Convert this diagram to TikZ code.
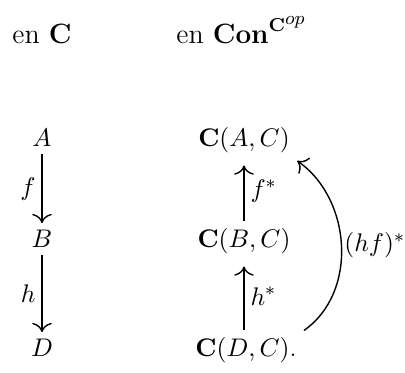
\documentclass[tikz,border=0pt]{standalone}
\usepackage{amsmath,amssymb}
\usepackage{tikz}
\usetikzlibrary{arrows.meta,positioning,calc}

\begin{document}
\begin{tikzpicture}[
  x=0.43pt, y=0.43pt,
  every node/.style={font=\fontsize{11}{13}\selectfont},
  obj/.style={inner sep=3pt, anchor=base},
  head/.style={inner sep=0pt, anchor=base west, font=\fontsize{12}{14}\selectfont},
  arr/.style={-{To[length=4pt]}, semithick},
  lab/.style={inner sep=2.5pt}
]
\useasboundingbox (0,0) rectangle (405,373);

% Headings
\node[head] (hC) at (12,330) {en $\mathbf{C}$};
\node[head] (hCon) at (176,330) {en $\mathbf{Con}^{\mathbf{C}^{\scriptstyle op}}$};

% Left column
\node[obj] (A) at (42,226) {$A$};
\node[obj] (B) at (42,125) {$B$};
\node[obj] (D) at (42,16) {$D$};

% Right column
\node[obj] (CA) at (244,226) {$\mathbf{C}(A,C)$};
\node[obj] (CB) at (244,125) {$\mathbf{C}(B,C)$};
\node[obj] (CD) at (246,16) {$\mathbf{C}(D,C)$.};

% Arrows
\draw[arr] (A) -- node[lab, left] {$f$} (B);
\draw[arr] (B) -- node[lab, left] {$h$} (D);
\draw[arr, shorten >=2pt] (CB) -- node[lab, right] {$f^{*}$} (CA);
\draw[arr, shorten >=2pt] (CD.north -| CB.south) -- node[lab, right] {$h^{*}$} (CB);
\draw[arr] (CD.north east) to[out=35, in=-35, looseness=1.0]
  node[lab, right, inner sep=1pt] {$(hf)^{*}$} (CA.south east);

\end{tikzpicture}
\end{document}
